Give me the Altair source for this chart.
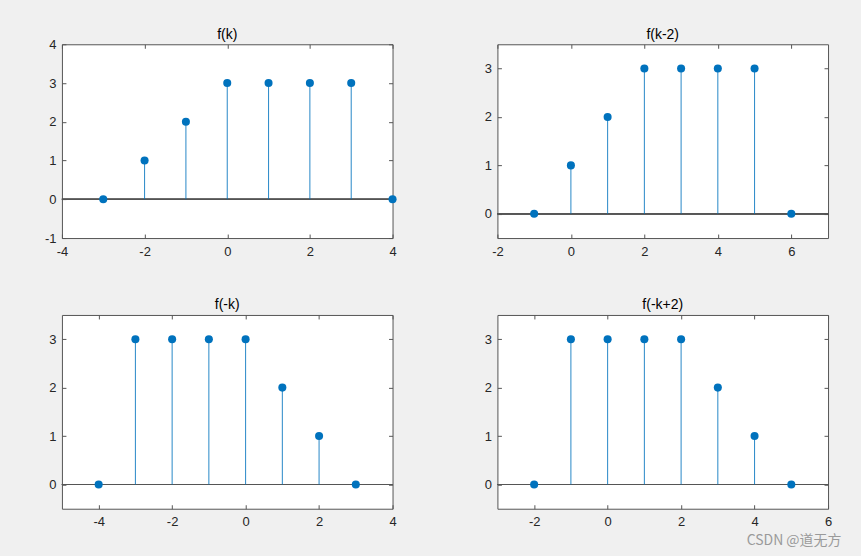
import altair as alt
import pandas as pd

# ---- data ----
K1 = [-3, -2, -1, 0, 1, 2, 3, 4]
V1 = [0, 1, 2, 3, 3, 3, 3, 0]
K2 = [-1, 0, 1, 2, 3, 4, 5, 6]
V2 = [0, 1, 2, 3, 3, 3, 3, 0]
K3 = [-4, -3, -2, -1, 0, 1, 2, 3]
V3 = [0, 3, 3, 3, 3, 2, 1, 0]
K4 = [-2, -1, 0, 1, 2, 3, 4, 5]
V4 = [0, 3, 3, 3, 3, 2, 1, 0]

TITLES = ["f(k)", "f(k-2)", "f(-k)", "f(-k+2)"]
XDOMS = [[-4, 4], [-2, 7], [-5, 4], [-3, 6]]
XTICKS = [[-4, -2, 0, 2, 4], [-2, 0, 2, 4, 6], [-4, -2, 0, 2, 4], [-2, 0, 2, 4, 6]]
YDOMS = [[-1, 4], [-0.5, 3.5], [-0.5, 3.5], [-0.5, 3.5]]
YTICKS = [[-1, 0, 1, 2, 3, 4], [0, 1, 2, 3], [0, 1, 2, 3], [0, 1, 2, 3]]
WATERMARK = ["CSDN @道无方"]

BLUE = "#0072BD"
DARK = "#262626"
BOX = "#555555"
FONT = "Liberation Sans"
W, H = 331, 194
TICK = 4


def make_axis(orient, values, labels=True):
    kw = dict(
        orient=orient,
        values=values,
        offset=-TICK,
        tickSize=TICK,
        tickColor=BOX,
        tickWidth=1,
        domain=False,
        grid=False,
        title=None,
        labels=labels,
    )
    if labels:
        kw.update(
            labelExpr="'' + datum.value",
            labelFont=FONT,
            labelFontSize=13,
            labelColor=DARK,
            labelPadding=7 if orient == "bottom" else 6,
            labelFlush=False,
            labelOverlap=False,
            labelBound=False,
        )
    return alt.Axis(**kw)


def panel(k, v, title, xdom, xticks, ydom, yticks, title_offset, watermark=False):
    df = pd.DataFrame({"k": k, "v": v})
    xs = alt.Scale(domain=xdom, nice=False, zero=False)
    ys = alt.Scale(domain=ydom, nice=False, zero=False)
    base = alt.Chart(df)

    baseline = base.mark_rule(color=BOX, strokeWidth=1).encode(
        y=alt.YDatum(0, axis=None)
    )
    stems = base.mark_rule(color=BLUE, strokeWidth=1, opacity=0.85).encode(
        x=alt.X("k:Q", scale=xs, axis=None),
        y=alt.Y("v:Q", scale=ys, axis=None),
        y2=alt.datum(0),
    )
    points = base.mark_circle(size=65, color=BLUE, opacity=1).encode(
        x=alt.X("k:Q", scale=xs, axis=make_axis("bottom", xticks)),
        y=alt.Y("v:Q", scale=ys, axis=make_axis("left", yticks)),
    )
    frame = base.mark_circle(opacity=0).encode(
        x=alt.X("k:Q", scale=xs, axis=make_axis("top", xticks, labels=False)),
        y=alt.Y("v:Q", scale=ys, axis=make_axis("right", yticks, labels=False)),
    )
    layers = [baseline, stems, points, frame]
    if watermark:
        wm = alt.Chart(pd.DataFrame({"t": WATERMARK})).mark_text(
            font="Noto Sans CJK SC", fontSize=14, color="#9a9a9a"
        ).encode(text="t:N", x=alt.value(297), y=alt.value(226))
        layers.append(wm)
    return (
        alt.layer(*layers)
        .resolve_axis(x="independent", y="independent")
        .properties(
            width=W,
            height=H,
            title=alt.TitleParams(
                text=title, font=FONT, fontSize=14, fontWeight="normal",
                color="#000000", offset=title_offset,
            ),
        )
    )


panels = [
    panel(K1, V1, TITLES[0], XDOMS[0], XTICKS[0], YDOMS[0], YTICKS[0], -4),
    panel(K2, V2, TITLES[1], XDOMS[1], XTICKS[1], YDOMS[1], YTICKS[1], 2),
    panel(K3, V3, TITLES[2], XDOMS[2], XTICKS[2], YDOMS[2], YTICKS[2], 2),
    panel(K4, V4, TITLES[3], XDOMS[3], XTICKS[3], YDOMS[3], YTICKS[3], 2, watermark=True),
]

chart = (
    alt.concat(*panels, columns=2, spacing={"row": 77, "column": 105}, bounds="flush")
    .configure(background="#f0f0f0", padding={"left": 43, "top": 27, "right": 18, "bottom": 8})
    .configure_view(stroke=BOX, strokeWidth=1, fill="white")
)

chart.save("out.html", embed_options={"renderer": "svg", "actions": False})
